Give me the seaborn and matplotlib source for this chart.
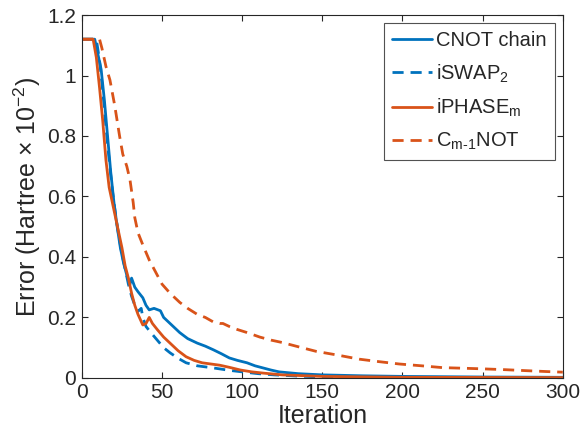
import matplotlib
matplotlib.use("Agg")
import matplotlib.pyplot as plt
import seaborn as sns
import pandas as pd

cnot_x = [0, 8, 10, 12, 14, 16, 18, 20, 22, 24, 26, 28, 30, 31, 33, 35, 38, 40, 42, 45, 49, 51, 53, 57, 61, 66, 72, 77, 82, 87, 92, 97, 103, 108, 113, 118, 123, 135, 150, 175, 200, 250, 300]
cnot_y = [1.12, 1.12, 1.07, 1.02, 0.92, 0.80, 0.68, 0.58, 0.50, 0.43, 0.38, 0.34, 0.31, 0.33, 0.30, 0.285, 0.265, 0.24, 0.225, 0.23, 0.222, 0.20, 0.19, 0.17, 0.15, 0.13, 0.115, 0.105, 0.093, 0.08, 0.066, 0.058, 0.05, 0.04, 0.033, 0.026, 0.02, 0.014, 0.01, 0.007, 0.005, 0.003, 0.002]

iswap_x = [0, 9, 11, 13, 15, 17, 19, 21, 23, 25, 27, 29, 31, 33, 35, 37, 38, 40, 43, 47, 51, 55, 60, 65, 72, 82, 92, 100, 110, 120, 135, 150, 200, 300]
iswap_y = [1.12, 1.12, 1.05, 0.95, 0.83, 0.72, 0.62, 0.54, 0.47, 0.41, 0.36, 0.31, 0.27, 0.24, 0.22, 0.23, 0.20, 0.17, 0.15, 0.125, 0.10, 0.083, 0.065, 0.05, 0.04, 0.033, 0.025, 0.02, 0.014, 0.01, 0.006, 0.003, 0.001, 0.0005]

iphase_x = [0, 7, 9, 11, 13, 15, 17, 19, 21, 23, 25, 27, 29, 31, 33, 35, 38, 40, 42, 44, 47, 51, 55, 60, 65, 70, 75, 86, 92, 99, 106, 113, 125, 150, 200, 300]
iphase_y = [1.12, 1.12, 1.06, 0.96, 0.85, 0.72, 0.63, 0.58, 0.53, 0.48, 0.43, 0.37, 0.33, 0.28, 0.24, 0.21, 0.175, 0.18, 0.20, 0.18, 0.16, 0.135, 0.115, 0.09, 0.07, 0.058, 0.05, 0.042, 0.035, 0.026, 0.02, 0.016, 0.01, 0.005, 0.002, 0.001]

cmnot_x = [0, 11, 12.5, 15, 17.5, 20.5, 23.5, 25.5, 28, 30, 32, 33, 35, 38, 42, 46, 50, 55, 61, 66, 72, 77, 82, 86, 88, 92, 97, 103, 111, 118, 125, 135, 146, 160, 173, 185, 198, 212, 225, 238, 250, 265, 277, 290, 300]
cmnot_y = [1.12, 1.12, 1.09, 1.03, 0.985, 0.90, 0.80, 0.74, 0.70, 0.655, 0.58, 0.53, 0.48, 0.44, 0.39, 0.35, 0.31, 0.28, 0.25, 0.23, 0.21, 0.20, 0.185, 0.18, 0.18, 0.17, 0.16, 0.15, 0.135, 0.125, 0.117, 0.103, 0.088, 0.075, 0.062, 0.054, 0.046, 0.04, 0.034, 0.032, 0.03, 0.027, 0.024, 0.021, 0.019]

labels = ["CNOT chain", "iSWAP$_2$", "iPHASE$_\\mathrm{m}$", "C$_\\mathrm{m\\text{-}1}$NOT"]
x_ticks = [0, 50, 100, 150, 200, 250, 300]
y_ticks = [0, 0.2, 0.4, 0.6, 0.8, 1.0, 1.2]
y_tick_labels = ["0", "0.2", "0.4", "0.6", "0.8", "1", "1.2"]

sns.set_theme(style="ticks")
plt.rcParams["font.family"] = ["Liberation Sans", "DejaVu Sans"]
plt.rcParams["mathtext.fontset"] = "custom"
plt.rcParams["mathtext.rm"] = "Liberation Sans"
plt.rcParams["mathtext.it"] = "Liberation Sans"
plt.rcParams["mathtext.default"] = "regular"

blue = "#0072BD"
orange = "#D95319"
ink = "#262626"

fig = plt.figure(figsize=(5.85, 4.42), dpi=100)
ax = fig.add_axes([0.140, 0.145, 0.822, 0.821])

series = [(cnot_x, cnot_y, blue, "-"), (iswap_x, iswap_y, blue, "--"),
          (iphase_x, iphase_y, orange, "-"), (cmnot_x, cmnot_y, orange, "--")]
for (xs, ys, c, ls), lab in zip(series, labels):
    df = pd.DataFrame({"x": xs, "y": ys})
    sns.lineplot(data=df, x="x", y="y", ax=ax, color=c, linewidth=2.0,
                 label=lab, sort=False, estimator=None)
    line = ax.get_lines()[-1]
    line.set_linestyle(ls)
    if ls == "--":
        line.set_dashes((4, 2.5))

ax.set_xlim(0, 300)
ax.set_ylim(0, 1.2)
ax.set_xticks(x_ticks)
ax.set_yticks(y_ticks)
ax.set_yticklabels(y_tick_labels)
ax.tick_params(direction="in", length=4, width=0.8, labelsize=15, colors=ink,
               top=True, right=True, pad=4)
for s in ax.spines.values():
    s.set_color(ink)
    s.set_linewidth(0.8)
ax.set_xlabel("Iteration", fontsize=18, color=ink, labelpad=1)
ax.set_ylabel("Error (Hartree $\\times$ 10$^{-2}$)", fontsize=18, color=ink, labelpad=3)

leg = ax.legend(loc="upper right", fontsize=14.5, frameon=True, fancybox=False,
                edgecolor=ink, handlelength=2.0, handletextpad=0.2,
                labelspacing=0.6, borderpad=0.4, borderaxespad=0.4)
leg.get_frame().set_linewidth(0.8)
for h in leg.get_lines():
    h.set_linewidth(2.0)

fig.savefig("out.png", dpi=100)
